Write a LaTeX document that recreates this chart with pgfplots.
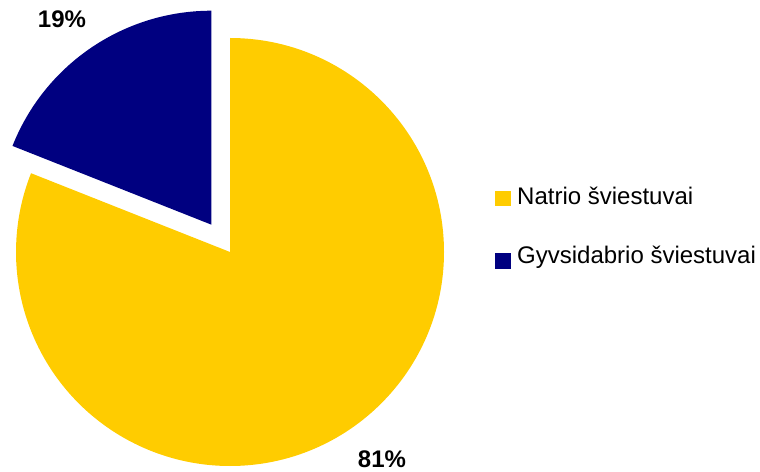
\documentclass[border=0pt]{standalone}
\usepackage{fontspec}
\setmainfont{Liberation Sans}
\usepackage{pgfplots}
\usepackage{pgfplotstable}
\usetikzlibrary{calc}
\pgfplotsset{compat=1.18}
\definecolor{pieyellow}{HTML}{FFCC00}
\definecolor{pienavy}{HTML}{000080}
\pgfplotstableread{
label value
Natrio 81
Gyvsidabrio 19
}\piedata
\pgfplotstablegetelem{0}{value}\of\piedata \let\valA\pgfplotsretval
\pgfplotstablegetelem{1}{value}\of\piedata \let\valB\pgfplotsretval
\begin{document}
\begin{tikzpicture}
\begin{axis}[
  x=1pt, y=1pt,
  xmin=0, xmax=760, ymin=0, ymax=471,
  hide axis, clip=false,
]
\coordinate (BL) at (axis cs:0,0);
\coordinate (TR) at (axis cs:760,471);
\pgfmathsetmacro{\endA}{90-3.6*\valA}
\pgfmathsetmacro{\midB}{90+1.8*\valB}
% yellow slice
\fill[pieyellow] (axis cs:230,219) -- ++(90:214) arc[start angle=90, end angle=\endA, radius=214] -- cycle;
% navy exploded slice
\fill[pienavy] ($(axis cs:230,219)+(\midB:33)$) -- ++(90:214) arc[start angle=90, end angle={90+3.6*\valB}, radius=214] -- cycle;
\node[font=\fontsize{24}{28}\selectfont\bfseries] at (axis cs:62,452) {19\%};
\node[font=\fontsize{24}{28}\selectfont\bfseries] at (axis cs:382,12) {81\%};
% legend
\fill[pieyellow] (axis cs:495,265) rectangle (axis cs:511,280);
\fill[pienavy] (axis cs:495,202) rectangle (axis cs:511,218);
\node[anchor=base west, inner sep=0pt, font=\fontsize{24}{28}\selectfont] at (axis cs:517,266) {Natrio šviestuvai};
\node[anchor=base west, inner sep=0pt, font=\fontsize{24}{28}\selectfont] at (axis cs:517,207) {Gyvsidabrio šviestuvai};
\end{axis}
\pgfresetboundingbox
\path (BL) rectangle (TR);
\end{tikzpicture}
\end{document}
